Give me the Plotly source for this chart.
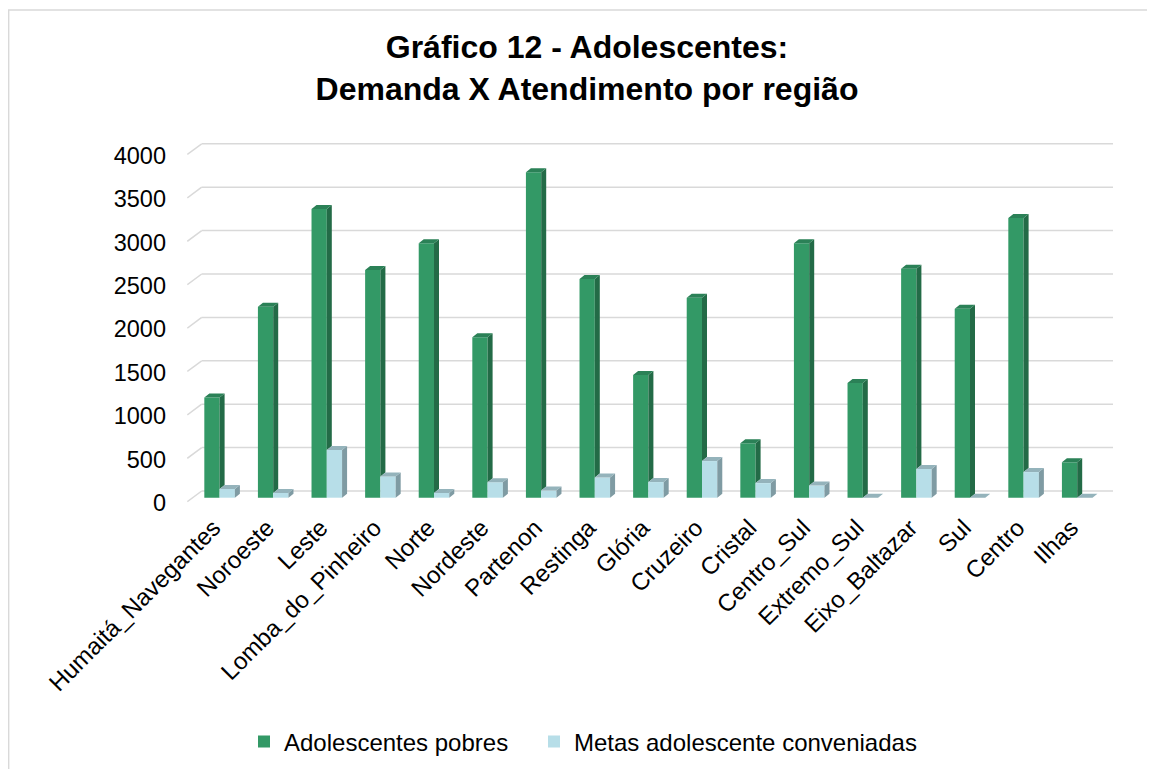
import plotly.graph_objects as go

# ---------------- data ----------------
regions = ["Humaitá_Navegantes", "Noroeste", "Leste", "Lomba_do_Pinheiro", "Norte",
           "Nordeste", "Partenon", "Restinga", "Glória", "Cruzeiro", "Cristal",
           "Centro_Sul", "Extremo_Sul", "Eixo_Baltazar", "Sul", "Centro", "Ilhas"]
adolescentes_pobres = [1155, 2200, 3326, 2623, 2931, 1848, 3749, 2520, 1414,
                       2304, 627, 2931, 1321, 2638, 2177, 3222, 408]
metas_conveniadas = [100, 55, 550, 245, 55, 178, 82, 232, 180,
                     422, 168, 140, 0, 332, 0, 295, 0]
y_ticks = [0, 500, 1000, 1500, 2000, 2500, 3000, 3500, 4000]
series_names = ["Adolescentes pobres", "Metas adolescente conveniadas"]

# ---------------- style / geometry ----------------
W, H = 1155, 769
OFF = 8                                   # page body margin compensation
L, R, T, B = 187 - OFF, 1113 - OFF, 130 - OFF, 505 - OFF   # plot area (px)
PXU = 0.0868                              # px per unit (value axis)
Y0PX = 497.7 - OFF                        # pixel row of value 0 (bar front plane)
CX0, STEP = 219.6 - OFF, 53.6             # pixel of first category centre, spacing
BW = 0.285                                # bar width in category units
DX = 5 / STEP                             # 3-D depth, horizontal
DY = 4 / PXU                              # 3-D depth, vertical
FRONT_SHIFT = -4 / PXU                    # front (label) plane relative to bar plane
BACK_SHIFT = 6.7 / PXU                    # back wall relative to bar plane
X_FRONT = (187.3 - OFF - CX0) / STEP
X_BACK = (201.7 - OFF - CX0) / STEP

GREEN, GREEN_SIDE, GREEN_TOP = "#339966", "#236B47", "#2B8157"
BLUE, BLUE_SIDE, BLUE_TOP = "#B7DEE8", "#7F9BA3", "#94B3BB"
GRID = "#D9D9D9"
FONT = "Liberation Sans, Arial, sans-serif"

yrange = [(Y0PX - B) / PXU, (Y0PX - T) / PXU]
xrange = [(L - CX0) / STEP, (R - CX0) / STEP]
xs = list(range(len(regions)))


def poly(builder):
    px, py = [], []
    for i in xs:
        pts = builder(i)
        for (a, b) in pts + [pts[0]]:
            px.append(a)
            py.append(b)
        px.append(None)
        py.append(None)
    return px, py


fig = go.Figure()

fig.add_trace(go.Bar(x=xs, y=adolescentes_pobres, name=series_names[0], width=BW, offset=-BW,
                     marker=dict(color=GREEN, line=dict(width=0)), legend="legend"))
fig.add_trace(go.Bar(x=xs, y=metas_conveniadas, name=series_names[1], width=BW, offset=0,
                     marker=dict(color=BLUE, line=dict(width=0)), legend="legend2"))

g, b = adolescentes_pobres, metas_conveniadas
faces = [
    (lambda i: [(i, b[i]), (i, g[i]), (i + DX, g[i] + DY), (i + DX, b[i] + DY)], GREEN_SIDE),
    (lambda i: [(i - BW, g[i]), (i, g[i]), (i + DX, g[i] + DY), (i - BW + DX, g[i] + DY)], GREEN_TOP),
    (lambda i: [(i + BW, 0), (i + BW, b[i]), (i + BW + DX, b[i] + DY), (i + BW + DX, DY)], BLUE_SIDE),
    (lambda i: [(i, b[i]), (i + BW, b[i]), (i + BW + DX, b[i] + DY), (i + DX, b[i] + DY)], BLUE_TOP),
]
for builder, col in faces:
    px, py = poly(builder)
    fig.add_trace(go.Scatter(x=px, y=py, mode="lines", fill="toself", fillcolor=col,
                             line=dict(width=0, color=col), hoverinfo="skip",
                             showlegend=False))

# back-wall gridlines with the oblique stub on the left
shapes = []
for v in y_ticks:
    shapes.append(dict(type="line", xref="x", yref="y", x0=X_BACK, x1=xrange[1],
                       y0=v + BACK_SHIFT, y1=v + BACK_SHIFT,
                       line=dict(color=GRID, width=1.5), layer="below"))
    shapes.append(dict(type="line", xref="x", yref="y", x0=X_FRONT, x1=X_BACK,
                       y0=v + FRONT_SHIFT, y1=v + BACK_SHIFT,
                       line=dict(color=GRID, width=1.5), layer="below"))
# chart border (only top and left edges fall inside the picture)
shapes.append(dict(type="rect", xref="paper", yref="paper",
                   x0=(0.6 - L) / (R - L), x1=(1180 - L) / (R - L),
                   y0=(B - 800) / (B - T), y1=(B - 2) / (B - T),
                   line=dict(color=GRID, width=1.6), fillcolor="rgba(0,0,0,0)", layer="below"))

legend_style = dict(orientation="h", xref="container", yref="container", xanchor="left",
                    y=1 - (742 - OFF) / H, yanchor="middle",
                    font=dict(family=FONT, size=24, color="#000000"),
                    itemwidth=30, bgcolor="rgba(0,0,0,0)")

fig.update_layout(
    width=W, height=H,
    margin=dict(l=L, r=W - R, t=T, b=H - B, autoexpand=False),
    paper_bgcolor="white", plot_bgcolor="white",
    font=dict(family=FONT, color="#000000", size=23),
    title=dict(text="<b>Gráfico 12 - Adolescentes:<br>Demanda X Atendimento por região</b>",
               x=(587 - OFF) / W, xanchor="center", xref="container",
               y=1 - 50 / H, yanchor="middle", yref="container",
               font=dict(family=FONT, size=32, color="#000000")),
    barmode="overlay",
    showlegend=True,
    legend=dict(legend_style, x=(262 - 18 - OFF) / W),
    legend2=dict(legend_style, x=(552 - 18 - OFF) / W),
    shapes=shapes,
)
fig.update_xaxes(range=xrange, tickmode="array", tickvals=xs, ticktext=regions,
                 tickangle=-45, showgrid=False, zeroline=False, showline=False,
                 ticks="", automargin=False, fixedrange=True,
                 ticklabelshift=-6, ticklabelstandoff=3,
                 tickfont=dict(family=FONT, size=24, color="#000000"))
fig.update_yaxes(range=yrange, tickmode="array", tickvals=y_ticks,
                 ticktext=[str(v) for v in y_ticks], showgrid=False, zeroline=False,
                 showline=False, ticks="", automargin=False, ticklabelstandoff=20,
                 ticklabelshift=5,
                 tickfont=dict(family=FONT, size=23.5, color="#000000"))

fig.write_html("out.html")
